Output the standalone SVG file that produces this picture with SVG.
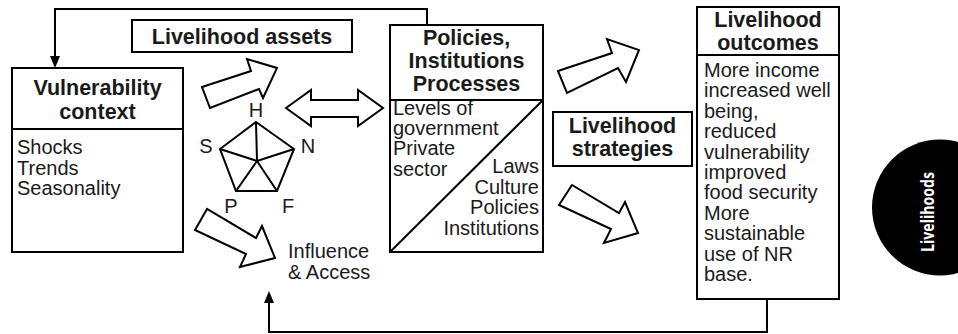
<svg xmlns="http://www.w3.org/2000/svg" width="958" height="334" viewBox="0 0 958 334">
<style>
.box{fill:#fff;stroke:#000;stroke-width:2}
.ln{fill:none;stroke:#000;stroke-width:2}
.big{fill:#fff;stroke:#000;stroke-width:2;stroke-linejoin:miter}
.t{font-family:"Liberation Sans",Arial,Helvetica,sans-serif;font-size:20px;fill:#1a1a1a}
.b{font-family:"Liberation Sans",Arial,Helvetica,sans-serif;font-size:21.5px;font-weight:bold;fill:#1a1a1a;text-anchor:middle}
.c{text-anchor:middle}
.r{text-anchor:end}
</style>
<rect width="958" height="334" fill="#fff"/>

<g id="connectors">
  <path class="ln" d="M427,25 V9 H55 V57"/>
  <polygon points="55,68 50,56 60,56" fill="#000"/>
  <path class="ln" d="M767,299 V332 H269 V302"/>
  <polygon points="269,291 264,303 274,303" fill="#000"/>
  <polygon class="big" points="202,87 251,71 247,59 277,68 263,98 259,89 210,108"/>
  <polygon class="big" points="286,108 311,90 311,100 358,100 358,90 383,108 358,126 358,117 311,117 311,126"/>
  <polygon class="big" points="558,71 612,53 607,39 639,50 626,82 618,68 567,93"/>
  <polygon class="big" points="572,185 559,205 611,229 604,243 638,233 625,202 619,213"/>
  <polygon class="big" points="207,209 195,230 246,254 240,267 275,258 262,226 256,238"/>
</g>

<g id="vulnerability">
  <rect class="box" x="12" y="68" width="171" height="184"/>
  <line class="ln" x1="12" y1="129" x2="183" y2="129"/>
  <text class="b" x="97.5" y="95">Vulnerability</text>
  <text class="b" x="97.5" y="118.5">context</text>
  <text class="t" x="17" y="154">Shocks</text>
  <text class="t" x="17" y="174.5">Trends</text>
  <text class="t" x="17" y="195">Seasonality</text>
</g>

<g id="assets">
  <rect class="box" x="132" y="20" width="220" height="32"/>
  <text class="b" x="242" y="44">Livelihood assets</text>
</g>

<g id="pentagon">
  <polygon class="ln" points="256,122 294,149 277,191 236,191 220,149"/>
  <path class="ln" d="M256,122 L257,161 M294,149 L257,161 M277,191 L257,161 M236,191 L257,161 M220,149 L257,161"/>
  <text class="t c" x="256" y="117">H</text>
  <text class="t c" x="206" y="153">S</text>
  <text class="t c" x="308" y="153">N</text>
  <text class="t c" x="231" y="213">P</text>
  <text class="t c" x="288" y="213">F</text>
</g>

<g id="influence">
  <text class="t" x="288" y="258">Influence</text>
  <text class="t" x="288" y="279">&amp; Access</text>
</g>

<g id="policies">
  <rect class="box" x="390" y="25" width="153" height="227"/>
  <line class="ln" x1="390" y1="100" x2="543" y2="100"/>
  <line class="ln" x1="390" y1="252" x2="543" y2="100"/>
  <text class="b" x="466.5" y="45">Policies,</text>
  <text class="b" x="466.5" y="68">Institutions</text>
  <text class="b" x="466.5" y="91">Processes</text>
  <text class="t" x="393" y="115">Levels of</text>
  <text class="t" x="393" y="135">government</text>
  <text class="t" x="393" y="155">Private</text>
  <text class="t" x="393" y="175.5">sector</text>
  <text class="t r" x="539" y="173">Laws</text>
  <text class="t r" x="539" y="193.5">Culture</text>
  <text class="t r" x="539" y="214">Policies</text>
  <text class="t r" x="539" y="234.5">Institutions</text>
</g>

<g id="strategies">
  <rect class="box" x="553" y="112" width="139" height="54"/>
  <text class="b" x="622.5" y="133">Livelihood</text>
  <text class="b" x="622.5" y="156">strategies</text>
</g>

<g id="outcomes">
  <rect class="box" x="697" y="7" width="142" height="292"/>
  <line class="ln" x1="697" y1="55" x2="839" y2="55"/>
  <text class="b" x="768" y="27">Livelihood</text>
  <text class="b" x="768" y="50">outcomes</text>
  <text class="t" x="704" y="77">More income</text>
  <text class="t" x="704" y="97.4">increased well</text>
  <text class="t" x="704" y="117.8">being,</text>
  <text class="t" x="704" y="138.2">reduced</text>
  <text class="t" x="704" y="158.6">vulnerability</text>
  <text class="t" x="704" y="179">improved</text>
  <text class="t" x="704" y="199.4">food security</text>
  <text class="t" x="704" y="219.8">More</text>
  <text class="t" x="704" y="240.2">sustainable</text>
  <text class="t" x="704" y="260.6">use of NR</text>
  <text class="t" x="704" y="281">base.</text>
</g>

<g id="tab">
  <circle cx="940" cy="207.5" r="68" fill="#000"/>
  <text transform="translate(934,212) rotate(-90)" text-anchor="middle" font-family="'Open Sans','Noto Sans',sans-serif" font-weight="bold" font-size="17" fill="#fff" textLength="80" lengthAdjust="spacingAndGlyphs">Livelihoods</text>
</g>
</svg>
